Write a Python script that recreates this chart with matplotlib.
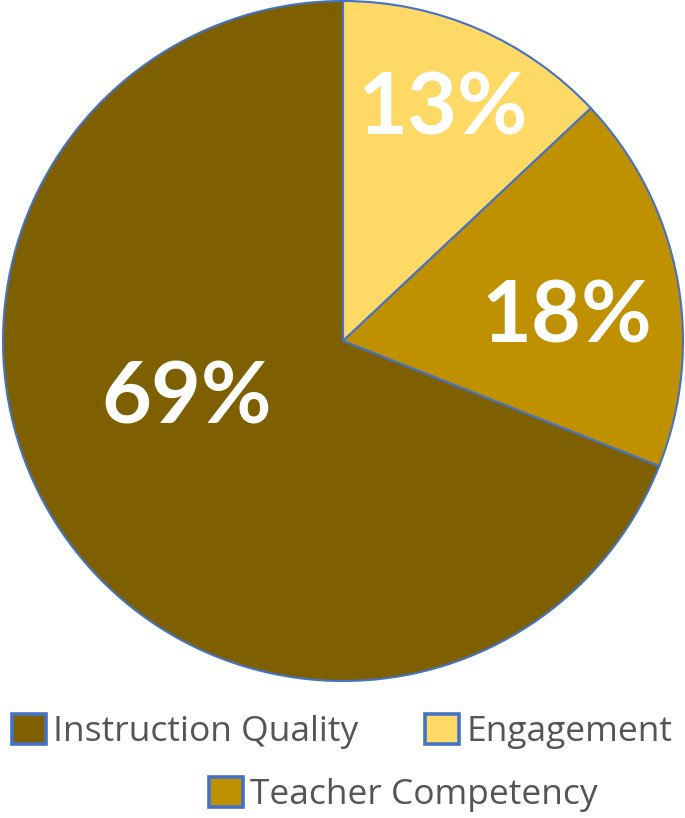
import matplotlib.pyplot as plt
import numpy as np

# data (clockwise from 12 o'clock)
categories = ['Engagement', 'Teacher Competency', 'Instruction Quality']
shares = [13, 18, 69]
colors = ['#FFD966', '#BF9000', '#7F6000']
legend_row1 = ['Instruction Quality', 'Engagement']
legend_row2 = ['Teacher Competency']

plt.rcParams['font.family'] = ['Lato', 'DejaVu Sans']

fig = plt.figure(figsize=(6.85, 8.18), dpi=100)
ax = fig.add_axes([3 / 685, 1 - 681 / 818, 680 / 685, 680 / 818])

wedges, _ = ax.pie(shares, colors=colors, startangle=90, counterclock=False,
                   radius=1.0,
                   wedgeprops=dict(edgecolor='#4472C4', linewidth=1.5))
ax.set_xlim(-1, 1)
ax.set_ylim(-1, 1)
ax.set_aspect('equal')
ax.axis('off')

# label placement (Excel "best fit"), angle offset and radius per slice
lab_shift = [0, -5, -14]
lab_r = [0.74, 0.66, 0.49]
for w, v, dshift, r in zip(wedges, shares, lab_shift, lab_r):
    ang = np.deg2rad((w.theta1 + w.theta2) / 2 + dshift)
    ax.text(r * np.cos(ang), r * np.sin(ang), f'{v}%', ha='center', va='center',
            fontsize=62, fontweight='bold', color='white')

handles = dict(zip(categories, wedges))
leg_kw = dict(frameon=False, labelcolor='#555555',
              prop=dict(family='Open Sans', size=25.5),
              handlelength=0.95, handleheight=0.95, handletextpad=0.2,
              borderpad=0, borderaxespad=0)
leg1 = fig.legend([handles[c] for c in legend_row1], legend_row1, ncol=2,
                  loc='center left', bbox_to_anchor=(12 / 685, 0.1057),
                  columnspacing=1.9, **leg_kw)
leg2 = fig.legend([handles[c] for c in legend_row2], legend_row2,
                  loc='center left', bbox_to_anchor=(209 / 685, 0.0287), **leg_kw)
for lg in (leg1, leg2):
    for p in lg.get_patches():
        p.set_linewidth(2.6)

fig.savefig('out.png', dpi=100)
